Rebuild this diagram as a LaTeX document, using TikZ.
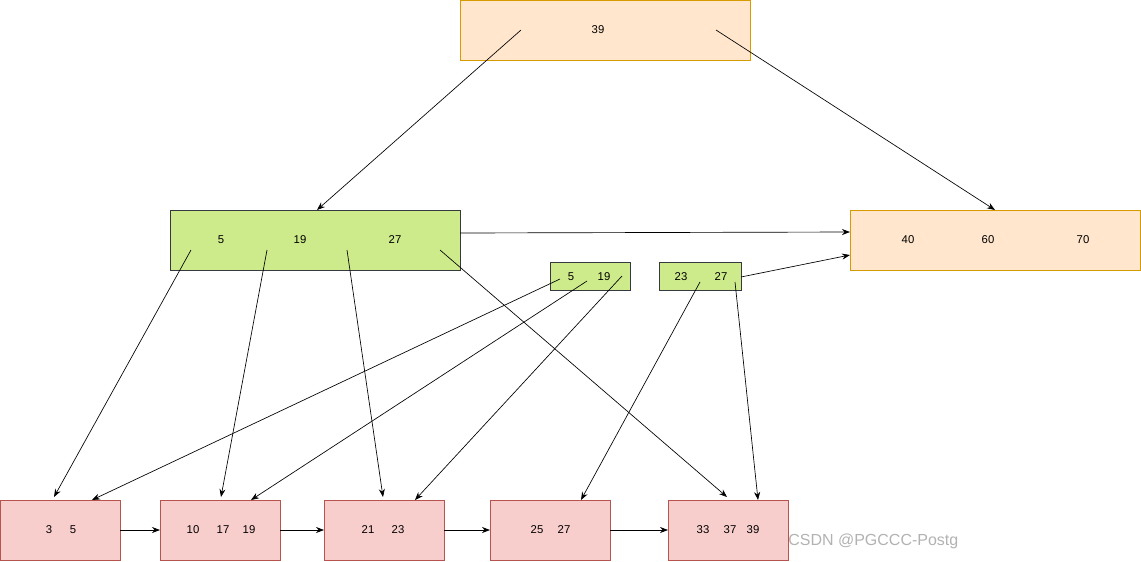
\documentclass[tikz,border=0pt]{standalone}
\usepackage{fontspec}
\setmainfont{Liberation Sans}
\usetikzlibrary{arrows.meta}
\definecolor{ofill}{HTML}{FFE6CC}\definecolor{odraw}{HTML}{D79B00}
\definecolor{gfill}{HTML}{CDEB8B}\definecolor{gdraw}{HTML}{36393D}
\definecolor{rfill}{HTML}{F8CECC}\definecolor{rdraw}{HTML}{B85450}
\begin{document}
\begin{tikzpicture}[x=0.75pt,y=-0.75pt,
  box/.style={draw,line width=0.6pt},
  ob/.style={box,fill=ofill,draw=odraw},
  gb/.style={box,fill=gfill,draw=gdraw},
  rb/.style={box,fill=rfill,draw=rdraw},
  t/.style={font=\fontsize{8.5pt}{10pt}\selectfont,inner sep=0},
  ar/.style={-{Stealth[length=6pt,width=4.5pt]},line width=0.5pt}]
\useasboundingbox (0,0) rectangle (1141,561);
\path[ob] (460,0) rectangle (750,60);
\path[gb] (170,210) rectangle (460,270);
\path[ob] (850,210) rectangle (1140,270);
\path[gb] (550,262) rectangle (630,290);
\path[gb] (659,262) rectangle (741,290);
\foreach \a in {0,160,324,490,668}{\path[rb] (\a,500) rectangle (\a+120,560);}
\foreach \x/\y/\s in {598/30/39, 221/240/5, 300/240/19, 395/240/27, 908/240/40, 988/240/60, 1083/240/70,
  571/277/5, 604/277/19, 681/277/23, 721/277/27, 49/530/3, 73/530/5, 193/530/10, 223/530/17, 249/530/19,
  368/530/21, 398/530/23, 537/530/25, 564/530/27, 703/530/33, 730/530/37, 753/530/39}
  {\node[t] at (\x,\y) {\s};}
\foreach \n/\x/\y in {r1/521/30, r2/716/30, gr/460/233, g1/191/250, g2/267/250, g3/347/250, g4/440/250,
  s1/560/279, s2/587/281, s3/622/276, u1/700/282, u2/735/282, u3/741/277,
  a1/317/210, a2/995/210, b1/850/232, b2/850/255, l1/54/497, l2/221/497, l3/383/497, l4/727/497,
  m1/92/500, m2/251/500, m3/415/500, n1/581/500, n2/758/500,
  c1/120/530, c2/160/530, c3/280/530, c4/324/530, c5/444/530, c6/490/530, c7/610/530, c8/668/530}
  {\coordinate (\n) at (\x,\y);}
\foreach \p/\q in {r1/a1, r2/a2, gr/b1, g1/l1, g2/l2, g3/l3, g4/l4, s1/m1, s2/m2, s3/m3,
  u1/n1, u2/n2, u3/b2, c1/c2, c3/c4, c5/c6, c7/c8}
  {\draw[ar] (\p) -- (\q);}
\node[t,anchor=west,text=gray!60,font=\fontsize{12pt}{14pt}\selectfont] at (788,541) {CSDN @PGCCC-Postg};
\end{tikzpicture}
\end{document}
